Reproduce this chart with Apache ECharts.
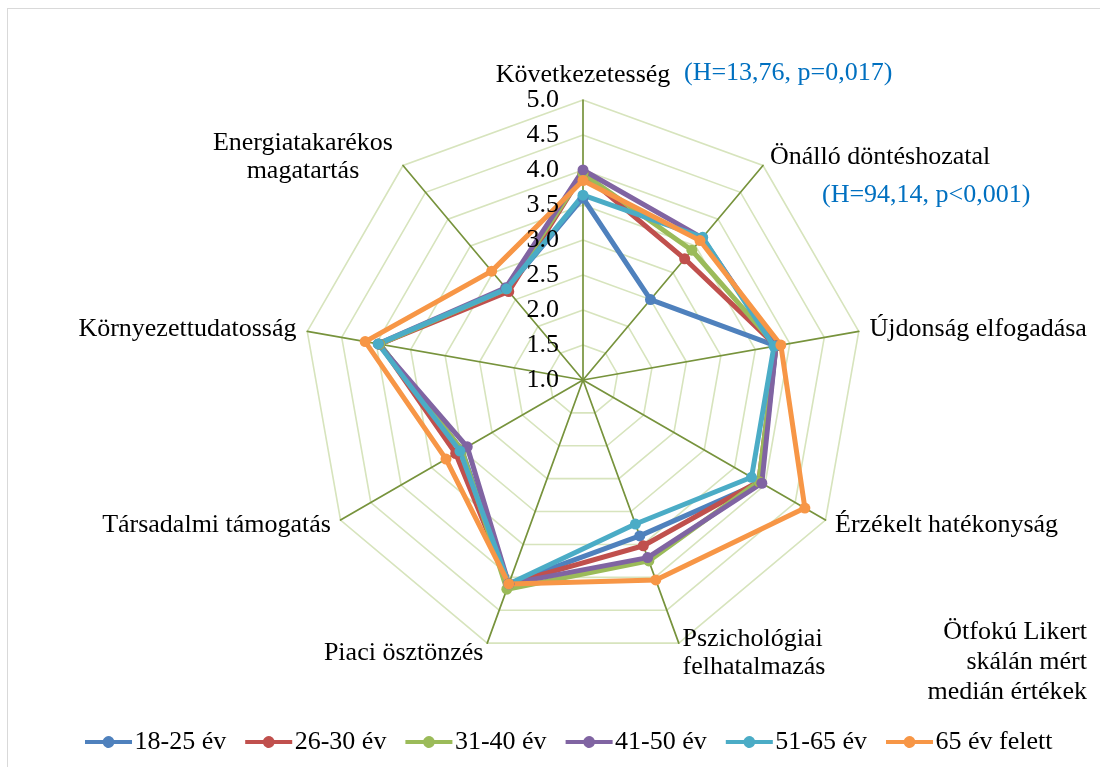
<!DOCTYPE html>
<html>
<head>
<meta charset="utf-8">
<script src="https://cdn.jsdelivr.net/npm/echarts@6/dist/echarts.min.js"></script>
<style>
  html, body { margin: 0; padding: 0; background: #fff; }
  #frame { position: absolute; left: 7px; top: 8px; width: 1100px; height: 770px; border: 1px solid #d9d9d9; box-sizing: border-box; }
  #chart { position: absolute; left: 0; top: 0; width: 1100px; height: 767px; }
</style>
</head>
<body>
<div id="frame"></div>
<div id="chart"></div>
<script>
// kategóriák az óramutató járása szerint, felülről indulva
var categories = ['Következetesség', 'Önálló döntéshozatal', 'Újdonság elfogadása', 'Érzékelt hatékonyság',
  'Pszichológiai\nfelhatalmazás', 'Piaci ösztönzés', 'Társadalmi támogatás', 'Környezettudatosság',
  'Energiatakarékos\nmagatartás'];

var groups = ['18-25 év', '26-30 év', '31-40 év', '41-50 év', '51-65 év', '65 év felett'];
var colors = ['#4F81BD', '#C0504D', '#9BBB59', '#8064A2', '#4BACC6', '#F79646'];

var v18_25 = [3.6, 2.5, 3.8, 3.93, 3.37, 4.1, 3.0, 3.95, 2.7];
var v26_30 = [3.95, 3.26, 3.8, 3.9, 3.52, 4.1, 3.1, 3.95, 2.65];
var v31_40 = [3.95, 3.42, 3.8, 3.9, 3.75, 4.18, 3.0, 3.95, 2.7];
var v41_50 = [4.0, 3.65, 3.8, 3.95, 3.7, 4.1, 2.91, 3.97, 2.72];
var v51_65 = [3.64, 3.66, 3.77, 3.78, 3.19, 4.1, 3.03, 3.97, 2.7];
var v65_up = [3.85, 3.6, 3.87, 4.66, 4.04, 4.1, 3.26, 4.16, 3.03];
var values = [v18_25, v26_30, v31_40, v41_50, v51_65, v65_up];

var scaleMin = 1, scaleMax = 5, scaleStep = 0.5;

// az echarts radar az óramutatóval ellentétesen halad, ezért megfordítjuk
function ccw(arr) {
  return [arr[0]].concat(arr.slice(1).reverse());
}

var serif = '"Liberation Serif", "DejaVu Serif", serif';
var fs = 26;
// vonal + kör jelölő a jelmagyarázathoz
var lineDot = 'path://M0 4 L18.3 4 A6 6 0 0 1 29.7 4 L48 4 L48 8 L29.7 8 A6 6 0 0 1 18.3 8 L0 8 Z';

var chart = echarts.init(document.getElementById('chart'));

var option = {
  backgroundColor: 'transparent',
  color: colors,
  legend: {
    top: 724,
    left: 80,
    icon: lineDot,
    itemWidth: 48,
    itemHeight: 12,
    itemGap: 19,
    textStyle: { fontFamily: serif, fontSize: fs, color: '#000', padding: [0, 0, 0, -3] },
    data: groups
  },
  radar: {
    center: [583, 380],
    radius: 280,
    startAngle: 90,
    shape: 'polygon',
    splitNumber: 8,
    nameGap: 11,
    axisName: {
      color: '#000',
      fontFamily: serif,
      fontSize: fs,
      lineHeight: 28,
      formatter: function (name) {
        if (name.indexOf('Energia') === 0) {
          return name.split('\n').map(function (s) { return '{c|' + s + '}'; }).join('\n');
        }
        return name;
      },
      rich: {
        c: { width: 186, align: 'center', fontFamily: serif, fontSize: fs, lineHeight: 28, color: '#000' }
      }
    },
    indicator: ccw(categories).map(function (c) { return { name: c, min: scaleMin, max: scaleMax }; }),
    axisLine: { lineStyle: { color: '#77933C', width: 1.7 } },
    splitLine: { lineStyle: { color: '#D7E4BD', width: 1.6 } },
    splitArea: { show: false },
    axisTick: { show: false },
    axisLabel: { show: false }
  },
  polar: { center: [583, 380], radius: 280 },
  angleAxis: { show: false, startAngle: 90, min: 0, max: 360 },
  radiusAxis: {
    min: scaleMin,
    max: scaleMax,
    interval: scaleStep,
    axisLine: { show: false },
    axisTick: { show: false },
    splitLine: { show: false },
    axisLabel: {
      margin: 24,
      color: '#000',
      fontFamily: serif,
      fontSize: fs,
      formatter: function (v) { return v.toFixed(1); }
    },
    z: 10
  },
  graphic: [
    { type: 'text', x: 684, y: 73, z: 10,
      style: { text: '(H=13,76, p=0,017)', fill: '#0070C0', font: fs + 'px ' + serif, verticalAlign: 'middle' } },
    { type: 'text', x: 822, y: 195, z: 10,
      style: { text: '(H=94,14, p<0,001)', fill: '#0070C0', font: fs + 'px ' + serif, verticalAlign: 'middle' } },
    { type: 'text', x: 1087, y: 617, z: 10,
      style: { text: 'Ötfokú Likert\nskálán mért\nmedián értékek', fill: '#000', font: fs + 'px ' + serif,
        align: 'right', lineHeight: 30 } }
  ],
  series: [{
    type: 'radar',
    symbol: 'circle',
    symbolSize: 11,
    data: groups.map(function (g, i) {
      return {
        name: g,
        value: ccw(values[i]),
        lineStyle: { color: colors[i], width: 5 },
        itemStyle: { color: colors[i] }
      };
    })
  }]
};

chart.setOption(option);
</script>
</body>
</html>
